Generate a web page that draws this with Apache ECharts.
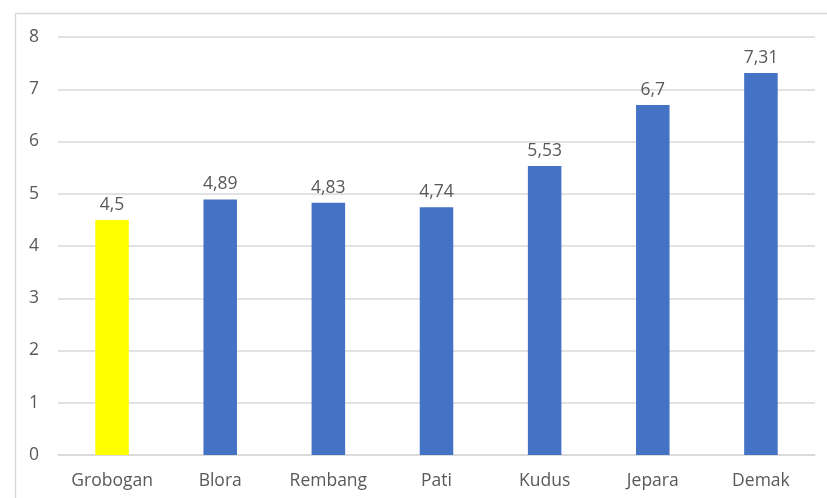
<!DOCTYPE html>
<html>
<head>
<meta charset="utf-8">
<script src="https://cdn.jsdelivr.net/npm/echarts@6/dist/echarts.min.js"></script>
<style>
  html, body { margin: 0; padding: 0; background: #fff; }
  #chart { width: 827px; height: 498px; }
</style>
</head>
<body>
<div id="chart"></div>
<script>
const categories = ['Grobogan', 'Blora', 'Rembang', 'Pati', 'Kudus', 'Jepara', 'Demak']
const values = [4.5, 4.89, 4.83, 4.74, 5.53, 6.7, 7.31]
const barColors = ['#FFFF00', '#4472C4', '#4472C4', '#4472C4', '#4472C4', '#4472C4', '#4472C4']
const yTicks = [0, 1, 2, 3, 4, 5, 6, 7, 8]

const textColor = '#595959'
const fontFamily = '"Open Sans", "Noto Sans", sans-serif'

const chart = echarts.init(document.getElementById('chart'))

chart.setOption({
  backgroundColor: '#fff',
  animation: false,
  graphic: [{
    type: 'rect',
    left: 13,
    top: 11,
    shape: { width: 830, height: 500 },
    style: { fill: 'none', stroke: '#D9D9D9', lineWidth: 1.5 }
  }],
  grid: {
    left: 58,
    right: 12,
    top: 37,
    bottom: 43
  },
  xAxis: {
    type: 'category',
    data: categories,
    axisLine: { lineStyle: { color: '#D9D9D9', width: 1.5 } },
    axisTick: { show: false },
    axisLabel: {
      color: textColor,
      fontSize: 17.5,
      fontFamily: fontFamily,
      margin: 17
    }
  },
  yAxis: {
    type: 'value',
    min: yTicks[0],
    max: yTicks[yTicks.length - 1],
    interval: 1,
    axisLine: { show: false },
    axisTick: { show: false },
    splitLine: { lineStyle: { color: '#D9D9D9', width: 1.5 } },
    axisLabel: {
      color: textColor,
      fontSize: 17.5,
      fontFamily: fontFamily,
      margin: 19
    }
  },
  series: [{
    type: 'bar',
    barWidth: '31%',
    data: values.map((v, i) => ({
      value: v,
      itemStyle: { color: barColors[i] }
    })),
    label: {
      show: true,
      position: 'top',
      distance: 6,
      color: textColor,
      fontSize: 17.5,
      fontFamily: fontFamily,
      formatter: p => String(p.value).replace('.', ',')
    }
  }]
})
</script>
</body>
</html>
